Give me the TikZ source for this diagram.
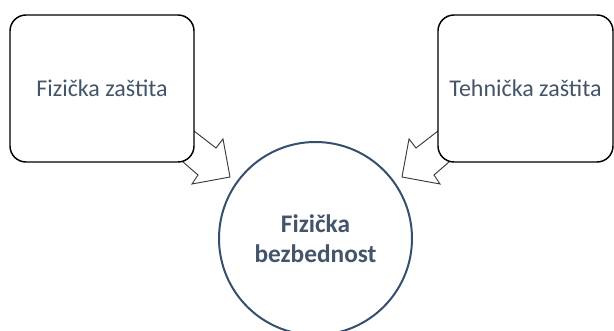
\documentclass[tikz,border=0pt]{standalone}
\usepackage{fontspec}
\setmainfont{Carlito}
\definecolor{txtblue}{HTML}{44546A}
\definecolor{ringblue}{HTML}{34506E}
\definecolor{arrowgray}{HTML}{3A3A3A}
\tikzset{
  sourcebox/.style={draw=black, line width=1.1pt, fill=white, rounded corners=12pt,
    minimum height=110.25pt, inner sep=0pt, text=txtblue,
    font=\fontsize{18}{22}\selectfont},
  targetring/.style={circle, draw=ringblue, line width=1.5pt, fill=white,
    minimum size=144.75pt, inner sep=0pt, text=txtblue, align=center,
    font=\fontsize{19}{22.5}\selectfont\bfseries},
  blockarrow/.style={draw=arrowgray, line width=0.7pt, fill=white, line join=miter}
}
\begin{document}
\begin{tikzpicture}[x=0.75pt, y=-0.75pt]
  \useasboundingbox (0,0) rectangle (614,331);
  \clip (0,0) rectangle (614,331);
  % block arrows (their tails are hidden under the boxes)
  \draw[blockarrow] (172,114) -- (216,148) -- (223,139) -- (230,177)
        -- (192,184) -- (198,175) -- (160,142) -- cycle;
  \draw[blockarrow] (460,114) -- (416,148) -- (409,139) -- (402,177)
        -- (440,184) -- (434,175) -- (472,142) -- cycle;
  % source boxes
  \node[sourcebox, minimum width=138pt] (fiz) at (102,88.5) {Fizička zaštita};
  \node[sourcebox, minimum width=131.25pt] (teh) at (525.5,88.5) {Tehnička zaštita};
  % target circle
  \node[targetring] (bez) at (315.5,238.5) {Fizička\\bezbednost};
\end{tikzpicture}
\end{document}
